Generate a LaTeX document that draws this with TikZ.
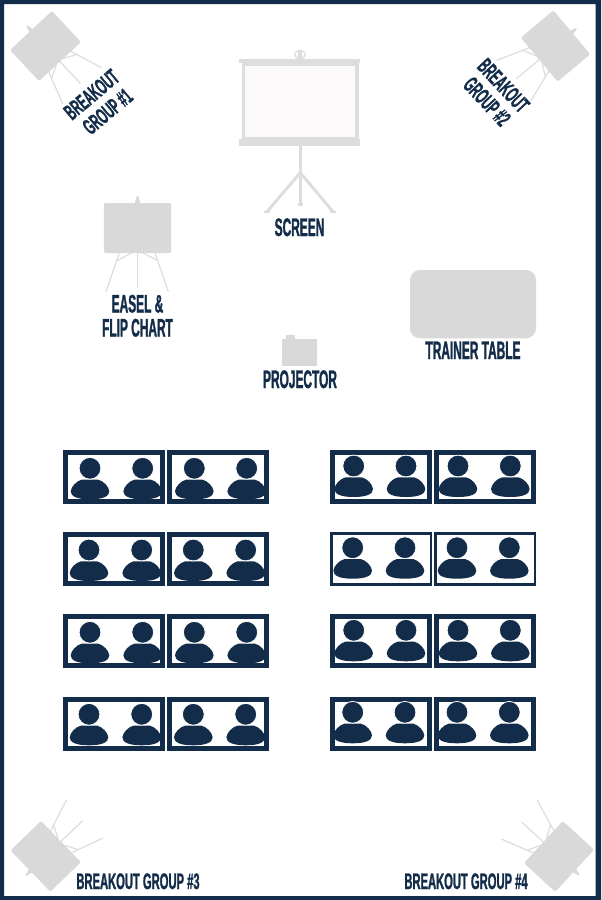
\documentclass[tikz,border=0pt]{standalone}
\usepackage{fontspec}
\newfontfamily\lgfont[FakeStretch=0.47,FakeBold=1.1]{Liberation Sans Bold}
\newfontfamily\lgsmall[FakeStretch=0.5,FakeBold=1.1]{Liberation Sans Bold}
\definecolor{navy}{HTML}{122C49}
\definecolor{panel}{HTML}{D9D9D9}
\definecolor{rail}{HTML}{DDDDDD}
\definecolor{sheet}{HTML}{FBF9FA}
\tikzset{
  lbl/.style={text=navy,inner sep=0pt,align=center,font=\lgfont\fontsize{19pt}{19pt}\selectfont},
  lblsmall/.style={lbl,font=\lgsmall\fontsize{16.8pt}{16.8pt}\selectfont},
  leg/.style={draw=rail,line width=0.9pt},
  pole/.style={draw=rail,line width=2.2pt},
  board/.style={fill=panel,rounded corners=1.5pt},
  person/.style={fill=navy},
  halo/.style={fill=navy,draw=white,line width=0.6pt}
}
% easel: board centre, rotation, scale
\newcommand{\easelpic}[4]{%
  \begin{scope}[shift={(#1,#2)},rotate=#3,scale=#4]
    \fill[panel] (-2.6,-25) -- (-0.8,-32) -- (0.8,-32) -- (2.6,-25) -- cycle;
    \draw[leg] (-18.2,25) -- (-31.5,63.7);
    \draw[leg] (0,25) -- (0,60);
    \draw[leg] (17.5,25) -- (30.8,63.7);
    \draw[leg] (-20.8,32.7) -- (-5.8,25);
    \draw[leg] (5.2,25) -- (20.8,32.7);
    \path[board] (-33.7,-25) rectangle (33.7,25);
  \end{scope}}
% person: head centre
\newcommand{\personpic}[2]{%
  \begin{scope}[shift={(#1,#2)}]
    \path[person] (-19.3,23) .. controls (-19,18.5) and (-13.5,12.5) .. (-8,11.3)
      -- (8,11.3)
      .. controls (13.5,12.5) and (19,18.5) .. (19.3,23)
      .. controls (19.3,28) and (13,31) .. (0,31)
      .. controls (-13,31) and (-19.3,28) .. (-19.3,23) -- cycle;
    \path[halo] (0,0) circle (10.9);
  \end{scope}}
% table: left, top, border, head-y, head x1, head x2
\newcommand{\tablepic}[6]{%
  \path[draw=navy,line width=#3*0.75pt] (#1+#3/2,#2+#3/2) rectangle (#1+102.3-#3/2,#2+53.6-#3/2);
  \personpic{#5}{#4}\personpic{#6}{#4}}
\begin{document}
\begin{tikzpicture}[x=0.75pt,y=-0.75pt]
\useasboundingbox (0,0) rectangle (601,900);
\fill[white] (0,0) rectangle (601,900);
\fill[navy,even odd rule] (0,0) rectangle (601,900) (4,4) rectangle (595.5,896);

% breakout corners
\easelpic{45.5}{46}{43}{0.85}
\easelpic{555.5}{46}{-50}{0.85}
\easelpic{45.7}{856.3}{134}{0.85}
\easelpic{559}{856.4}{-132.6}{0.85}
\node[lblsmall,rotate=40,anchor=center] (g1a) at (91.5,94.5) {BREAKOUT};
\node[lblsmall,rotate=40,anchor=center] (g1b) at (107.5,111.5) {GROUP \#1};
\node[lblsmall,rotate=-47,anchor=center] (g2a) at (503.5,85.5) {BREAKOUT};
\node[lblsmall,rotate=-47,anchor=center] (g2b) at (487,101.5) {GROUP \#2};
\node[lblsmall,anchor=base] (g3) at (138,889) {BREAKOUT GROUP \#3};
\node[lblsmall,anchor=base] (g4) at (466,889) {BREAKOUT GROUP \#4};

% screen
\draw[rail,line width=0.9pt] (300,54.7) ellipse (5.2 and 4.4);
\fill[rail] (298.5,50) -- (301.5,50) -- (303,59.3) -- (297,59.3) -- cycle;
\fill[rail] (239.3,59.3) rectangle (360,62.7);
\fill[rail] (242,62.7) rectangle (358.7,140);
\fill[sheet] (245.3,66) rectangle (355.3,137.3);
\fill[rail] (239.3,138.7) rectangle (360,146);
\draw[pole] (300.3,146) -- (300.3,204);
\fill[rail] (298,203) rectangle (302.6,206);
\draw[pole] (300.3,172.7) -- (266.7,212);
\draw[pole] (300.3,172.7) -- (333.3,212);
\fill[rail] (264,211) rectangle (270,213);
\fill[rail] (330,211) rectangle (336,213);
\node[lbl,anchor=base] (screen) at (299.5,236) {SCREEN};

% easel
\easelpic{137.5}{228}{0}{1}
\node[lbl,anchor=base] (easel) at (137.5,312.5) {EASEL \&};
\node[lbl,anchor=base] (flip) at (137.5,336.5) {FLIP CHART};

% projector
\fill[panel] (282.3,339) rectangle (317.3,366);
\fill[panel] (286,335) rectangle (295,339);
\node[lbl,anchor=base] (proj) at (300,388) {PROJECTOR};

% trainer table
\path[fill=panel,rounded corners=7.5pt] (410,270) rectangle (536,338.3);
\node[lbl,anchor=base] (trainer) at (473,359) {TRAINER TABLE};

% left tables
\tablepic{63}{450}{5}{468.3}{90}{142.7}
\tablepic{167}{450}{5}{468.3}{194.3}{246.7}
\tablepic{63}{532}{5}{550}{89}{141.7}
\tablepic{167}{532}{5}{550}{193.3}{245.7}
\tablepic{63}{614.3}{5}{632.3}{90}{142.7}
\tablepic{167}{614.3}{5}{632.3}{194.3}{246.7}
\tablepic{63}{697}{5}{714.3}{89}{141.7}
\tablepic{167}{697}{5}{714.3}{193.3}{245.7}
% right tables
\tablepic{330}{450}{5}{466}{353.7}{406}
\tablepic{434}{450}{5}{466}{458}{510.3}
\tablepic{330}{532}{2.6}{547.7}{352.7}{405}
\tablepic{434}{532}{2.6}{547.7}{457}{509.3}
\tablepic{330}{614.3}{5}{630.3}{353.7}{406}
\tablepic{434}{614.3}{5}{630.3}{458}{510.3}
\tablepic{330}{697}{5}{712.3}{352.7}{405}
\tablepic{434}{697}{5}{712.3}{457}{509.3}
\end{tikzpicture}
\end{document}
